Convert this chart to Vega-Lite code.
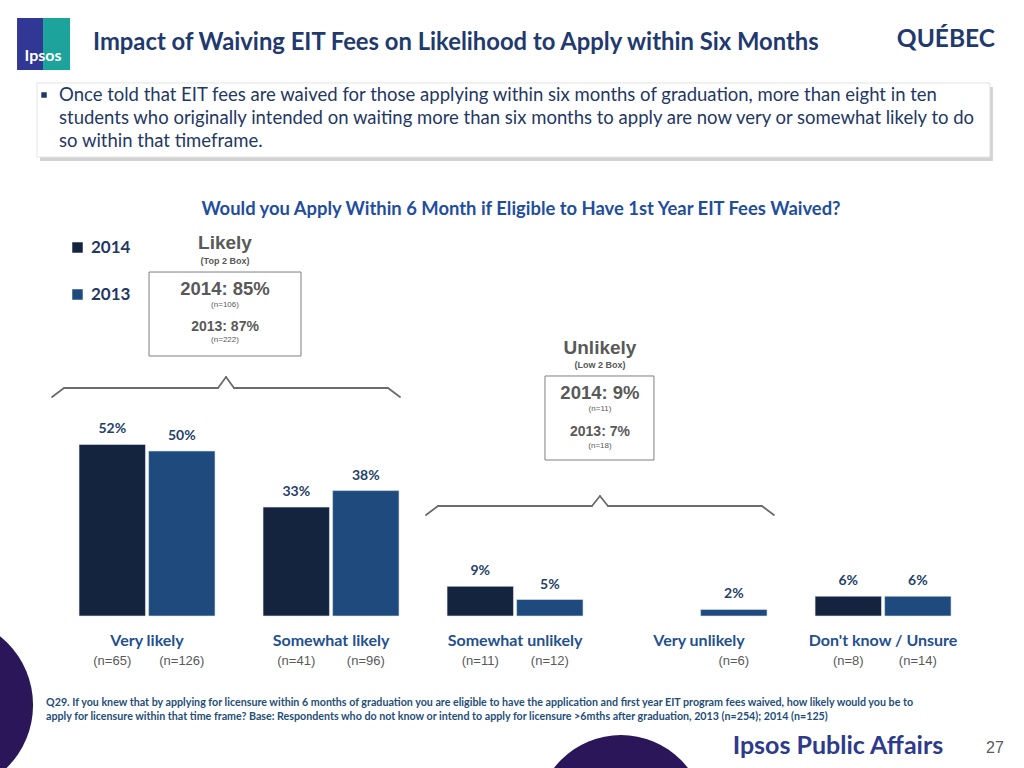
{
  "$schema": "https://vega.github.io/schema/vega-lite/v6.json",
  "width": 1024,
  "height": 768,
  "autosize": {"type": "none"},
  "padding": 0,
  "background": "white",
  "config": {
    "view": {"stroke": null},
    "axis": {"disable": true},
    "text": {"font": "Lato"}
  },
  "data": {"values": [
    {"category": "Very likely", "year": "2014", "value": 52, "n": "(n=65)"},
    {"category": "Very likely", "year": "2013", "value": 50, "n": "(n=126)"},
    {"category": "Somewhat likely", "year": "2014", "value": 33, "n": "(n=41)"},
    {"category": "Somewhat likely", "year": "2013", "value": 38, "n": "(n=96)"},
    {"category": "Somewhat unlikely", "year": "2014", "value": 9, "n": "(n=11)"},
    {"category": "Somewhat unlikely", "year": "2013", "value": 5, "n": "(n=12)"},
    {"category": "Very unlikely", "year": "2013", "value": 2, "n": "(n=6)"},
    {"category": "Don't know / Unsure", "year": "2014", "value": 6, "n": "(n=8)"},
    {"category": "Don't know / Unsure", "year": "2013", "value": 6, "n": "(n=14)"}
  ]},
  "layer": [
    {
      "mark": {"type": "point", "shape": "circle", "filled": true, "size": 30976, "color": "#2A1659", "opacity": 1},
      "data": {"values": [{}]},
      "encoding": {"x": {"datum": "Very likely", "bandPosition": -0.9853}, "y": {"datum": -26.97}}
    },
    {
      "mark": {"type": "point", "shape": "circle", "filled": true, "size": 28561, "color": "#2A1659", "opacity": 1},
      "data": {"values": [{}]},
      "encoding": {"x": {"datum": "Very likely", "bandPosition": 3.9853}, "y": {"datum": -61.67}}
    },
    {
      "mark": {"type": "rect", "color": "#303795"},
      "data": {"values": [{}]},
      "encoding": {
        "x": {"datum": "Very likely", "bandPosition": -0.4559}, "x2": {"datum": "Very likely", "bandPosition": -0.2647},
        "y": {"datum": 181.21}, "y2": {"datum": 165.45}
      }
    },
    {
      "mark": {"type": "rect", "color": "#1BA39C"},
      "data": {"values": [{}]},
      "encoding": {
        "x": {"datum": "Very likely", "bandPosition": -0.2647}, "x2": {"datum": "Very likely", "bandPosition": -0.0662},
        "y": {"datum": 181.21}, "y2": {"datum": 165.45}
      }
    },
    {
      "mark": {"type": "text", "text": "Ipsos", "color": "white", "fontSize": 16, "fontWeight": "bold", "align": "center", "baseline": "middle"},
      "data": {"values": [{}]},
      "encoding": {"x": {"datum": "Very likely", "bandPosition": -0.2647}, "y": {"datum": 169.7}}
    },
    {
      "mark": {"type": "text", "text": "Impact of Waiving EIT Fees on Likelihood to Apply within Six Months", "color": "#1F3A6E", "fontSize": 23.8, "fontWeight": "bold", "align": "left", "baseline": "middle"},
      "data": {"values": [{}]},
      "encoding": {"x": {"datum": "Very likely", "bandPosition": 0.1029}, "y": {"datum": 173.64}}
    },
    {
      "mark": {"type": "text", "text": "QUÉBEC", "color": "#1F3A6E", "fontSize": 24.5, "fontWeight": "bold", "align": "center", "baseline": "middle"},
      "data": {"values": [{}]},
      "encoding": {"x": {"datum": "Very likely", "bandPosition": 6.375}, "y": {"datum": 174.55}}
    },
    {
      "mark": {"type": "rect", "color": "#bfbfbf", "opacity": 0.7},
      "data": {"values": [{}]},
      "encoding": {
        "x": {"datum": "Very likely", "bandPosition": -0.2868}, "x2": {"datum": "Very likely", "bandPosition": 6.7206},
        "y": {"datum": 160.3}, "y2": {"datum": 137.88}
      }
    },
    {
      "mark": {"type": "rect", "fill": "white", "stroke": "#e4e4e4", "strokeWidth": 1},
      "data": {"values": [{}]},
      "encoding": {
        "x": {"datum": "Very likely", "bandPosition": -0.3088}, "x2": {"datum": "Very likely", "bandPosition": 6.6985},
        "y": {"datum": 161.52}, "y2": {"datum": 139.09}
      }
    },
    {
      "mark": {"type": "point", "shape": "square", "filled": true, "size": 30, "color": "#1F3864", "opacity": 1},
      "data": {"values": [{}]},
      "encoding": {"x": {"datum": "Very likely", "bandPosition": -0.2574}, "y": {"datum": 157.88}}
    },
    {
      "mark": {"type": "text", "text": ["Once told that EIT fees are waived for those applying within six months of graduation, more than eight in ten", "students who originally intended on waiting more than six months to apply are now very or somewhat likely to do", "so within that timeframe."], "color": "#1F3864", "fontSize": 18.5, "lineHeight": 23, "align": "left", "baseline": "middle"},
      "data": {"values": [{}]},
      "encoding": {"x": {"datum": "Very likely", "bandPosition": -0.1471}, "y": {"datum": 157.88}}
    },
    {
      "mark": {"type": "text", "text": "Would you Apply Within 6 Month if Eligible to Have 1st Year EIT Fees Waived?", "color": "#1F4E9E", "fontSize": 18.4, "fontWeight": "bold", "align": "center", "baseline": "middle"},
      "data": {"values": [{}]},
      "encoding": {"x": {"datum": "Very likely", "bandPosition": 3.25}, "y": {"datum": 123.33}}
    },
    {
      "mark": {"type": "text", "text": "Likely", "color": "#595959", "font": "Liberation Sans", "fontSize": 19, "fontWeight": "bold", "align": "center", "baseline": "middle"},
      "data": {"values": [{}]},
      "encoding": {"x": {"datum": "Very likely", "bandPosition": 1.0735}, "y": {"datum": 113.03}}
    },
    {
      "mark": {"type": "text", "text": "(Top 2 Box)", "color": "#595959", "font": "Liberation Sans", "fontSize": 9, "fontWeight": "bold", "align": "center", "baseline": "middle"},
      "data": {"values": [{}]},
      "encoding": {"x": {"datum": "Very likely", "bandPosition": 1.0735}, "y": {"datum": 107.58}}
    },
    {
      "mark": {"type": "rect", "fill": "white", "stroke": "#7f7f7f", "strokeWidth": 1},
      "data": {"values": [{}]},
      "encoding": {
        "x": {"datum": "Very likely", "bandPosition": 0.5147}, "x2": {"datum": "Very likely", "bandPosition": 1.6324},
        "y": {"datum": 104.24}, "y2": {"datum": 78.79}
      }
    },
    {
      "mark": {"type": "text", "text": "2014: 85%", "color": "#595959", "font": "Liberation Sans", "fontSize": 18.5, "fontWeight": "bold", "align": "center", "baseline": "middle"},
      "data": {"values": [{}]},
      "encoding": {"x": {"datum": "Very likely", "bandPosition": 1.0735}, "y": {"datum": 99.09}}
    },
    {
      "mark": {"type": "text", "text": "(n=106)", "color": "#595959", "font": "Liberation Sans", "fontSize": 8, "align": "center", "baseline": "middle"},
      "data": {"values": [{}]},
      "encoding": {"x": {"datum": "Very likely", "bandPosition": 1.0735}, "y": {"datum": 94.24}}
    },
    {
      "mark": {"type": "text", "text": "2013: 87%", "color": "#595959", "font": "Liberation Sans", "fontSize": 14, "fontWeight": "bold", "align": "center", "baseline": "middle"},
      "data": {"values": [{}]},
      "encoding": {"x": {"datum": "Very likely", "bandPosition": 1.0735}, "y": {"datum": 87.58}}
    },
    {
      "mark": {"type": "text", "text": "(n=222)", "color": "#595959", "font": "Liberation Sans", "fontSize": 8, "align": "center", "baseline": "middle"},
      "data": {"values": [{}]},
      "encoding": {"x": {"datum": "Very likely", "bandPosition": 1.0735}, "y": {"datum": 83.64}}
    },
    {
      "mark": {"type": "text", "text": "Unlikely", "color": "#595959", "font": "Liberation Sans", "fontSize": 19, "fontWeight": "bold", "align": "center", "baseline": "middle"},
      "data": {"values": [{}]},
      "encoding": {"x": {"datum": "Very likely", "bandPosition": 3.8309}, "y": {"datum": 81.21}}
    },
    {
      "mark": {"type": "text", "text": "(Low 2 Box)", "color": "#595959", "font": "Liberation Sans", "fontSize": 9, "fontWeight": "bold", "align": "center", "baseline": "middle"},
      "data": {"values": [{}]},
      "encoding": {"x": {"datum": "Very likely", "bandPosition": 3.8309}, "y": {"datum": 76.06}}
    },
    {
      "mark": {"type": "rect", "fill": "white", "stroke": "#7f7f7f", "strokeWidth": 1},
      "data": {"values": [{}]},
      "encoding": {
        "x": {"datum": "Very likely", "bandPosition": 3.4265}, "x2": {"datum": "Very likely", "bandPosition": 4.2279},
        "y": {"datum": 72.73}, "y2": {"datum": 47.27}
      }
    },
    {
      "mark": {"type": "text", "text": "2014: 9%", "color": "#595959", "font": "Liberation Sans", "fontSize": 18.5, "fontWeight": "bold", "align": "center", "baseline": "middle"},
      "data": {"values": [{}]},
      "encoding": {"x": {"datum": "Very likely", "bandPosition": 3.8309}, "y": {"datum": 67.58}}
    },
    {
      "mark": {"type": "text", "text": "(n=11)", "color": "#595959", "font": "Liberation Sans", "fontSize": 8, "align": "center", "baseline": "middle"},
      "data": {"values": [{}]},
      "encoding": {"x": {"datum": "Very likely", "bandPosition": 3.8309}, "y": {"datum": 62.73}}
    },
    {
      "mark": {"type": "text", "text": "2013: 7%", "color": "#595959", "font": "Liberation Sans", "fontSize": 14, "fontWeight": "bold", "align": "center", "baseline": "middle"},
      "data": {"values": [{}]},
      "encoding": {"x": {"datum": "Very likely", "bandPosition": 3.8309}, "y": {"datum": 55.76}}
    },
    {
      "mark": {"type": "text", "text": "(n=18)", "color": "#595959", "font": "Liberation Sans", "fontSize": 8, "align": "center", "baseline": "middle"},
      "data": {"values": [{}]},
      "encoding": {"x": {"datum": "Very likely", "bandPosition": 3.8309}, "y": {"datum": 51.52}}
    },
    {
      "mark": {"type": "rule", "color": "#6b6b6b", "strokeWidth": 1.8, "strokeCap": "round"},
      "data": {"values": [{}]},
      "encoding": {"x": {"datum": "Very likely", "bandPosition": -0.1985}, "x2": {"datum": "Very likely", "bandPosition": -0.1103}, "y": {"datum": 66.36}, "y2": {"datum": 69.09}}
    },
    {
      "mark": {"type": "rule", "color": "#6b6b6b", "strokeWidth": 1.8, "strokeCap": "round"},
      "data": {"values": [{}]},
      "encoding": {"x": {"datum": "Very likely", "bandPosition": -0.1103}, "x2": {"datum": "Very likely", "bandPosition": 1.0221}, "y": {"datum": 69.09}, "y2": {"datum": 69.09}}
    },
    {
      "mark": {"type": "rule", "color": "#6b6b6b", "strokeWidth": 1.8, "strokeCap": "round"},
      "data": {"values": [{}]},
      "encoding": {"x": {"datum": "Very likely", "bandPosition": 1.0221}, "x2": {"datum": "Very likely", "bandPosition": 1.0809}, "y": {"datum": 69.09}, "y2": {"datum": 72.42}}
    },
    {
      "mark": {"type": "rule", "color": "#6b6b6b", "strokeWidth": 1.8, "strokeCap": "round"},
      "data": {"values": [{}]},
      "encoding": {"x": {"datum": "Very likely", "bandPosition": 1.0809}, "x2": {"datum": "Very likely", "bandPosition": 1.1397}, "y": {"datum": 72.42}, "y2": {"datum": 69.09}}
    },
    {
      "mark": {"type": "rule", "color": "#6b6b6b", "strokeWidth": 1.8, "strokeCap": "round"},
      "data": {"values": [{}]},
      "encoding": {"x": {"datum": "Very likely", "bandPosition": 1.1397}, "x2": {"datum": "Very likely", "bandPosition": 2.2721}, "y": {"datum": 69.09}, "y2": {"datum": 69.09}}
    },
    {
      "mark": {"type": "rule", "color": "#6b6b6b", "strokeWidth": 1.8, "strokeCap": "round"},
      "data": {"values": [{}]},
      "encoding": {"x": {"datum": "Very likely", "bandPosition": 2.2721}, "x2": {"datum": "Very likely", "bandPosition": 2.3603}, "y": {"datum": 69.09}, "y2": {"datum": 66.36}}
    },
    {
      "mark": {"type": "rule", "color": "#6b6b6b", "strokeWidth": 1.8, "strokeCap": "round"},
      "data": {"values": [{}]},
      "encoding": {"x": {"datum": "Very likely", "bandPosition": 2.5515}, "x2": {"datum": "Very likely", "bandPosition": 2.6397}, "y": {"datum": 30.61}, "y2": {"datum": 33.33}}
    },
    {
      "mark": {"type": "rule", "color": "#6b6b6b", "strokeWidth": 1.8, "strokeCap": "round"},
      "data": {"values": [{}]},
      "encoding": {"x": {"datum": "Very likely", "bandPosition": 2.6397}, "x2": {"datum": "Very likely", "bandPosition": 3.7721}, "y": {"datum": 33.33}, "y2": {"datum": 33.33}}
    },
    {
      "mark": {"type": "rule", "color": "#6b6b6b", "strokeWidth": 1.8, "strokeCap": "round"},
      "data": {"values": [{}]},
      "encoding": {"x": {"datum": "Very likely", "bandPosition": 3.7721}, "x2": {"datum": "Very likely", "bandPosition": 3.8309}, "y": {"datum": 33.33}, "y2": {"datum": 36.36}}
    },
    {
      "mark": {"type": "rule", "color": "#6b6b6b", "strokeWidth": 1.8, "strokeCap": "round"},
      "data": {"values": [{}]},
      "encoding": {"x": {"datum": "Very likely", "bandPosition": 3.8309}, "x2": {"datum": "Very likely", "bandPosition": 3.8897}, "y": {"datum": 36.36}, "y2": {"datum": 33.33}}
    },
    {
      "mark": {"type": "rule", "color": "#6b6b6b", "strokeWidth": 1.8, "strokeCap": "round"},
      "data": {"values": [{}]},
      "encoding": {"x": {"datum": "Very likely", "bandPosition": 3.8897}, "x2": {"datum": "Very likely", "bandPosition": 5.0221}, "y": {"datum": 33.33}, "y2": {"datum": 33.33}}
    },
    {
      "mark": {"type": "rule", "color": "#6b6b6b", "strokeWidth": 1.8, "strokeCap": "round"},
      "data": {"values": [{}]},
      "encoding": {"x": {"datum": "Very likely", "bandPosition": 5.0221}, "x2": {"datum": "Very likely", "bandPosition": 5.1103}, "y": {"datum": 33.33}, "y2": {"datum": 30.61}}
    },
    {
      "mark": {"type": "bar", "stroke": "#dce6f2", "strokeWidth": 0.6},
      "encoding": {
        "x": {"field": "category", "type": "nominal", "axis": null, "sort": null,
              "scale": {"domain": ["Very likely", "Somewhat likely", "Somewhat unlikely", "Very unlikely", "Don't know / Unsure"], "paddingInner": 0.261, "paddingOuter": 0.413, "align": 0.52}},
        "xOffset": {"field": "year", "type": "nominal", "scale": {"domain": ["2014", "2013"], "paddingInner": 0.045}},
        "y": {"field": "value", "type": "quantitative", "axis": null, "scale": {"domain": [-46.06, 186.67], "nice": false, "zero": false}},
        "color": {"field": "year", "type": "nominal",
                  "scale": {"domain": ["2014", "2013"], "range": ["#14243F", "#1F4A7D"]},
                  "legend": {"orient": "none", "legendX": 69, "legendY": 239, "title": null, "symbolType": "square", "symbolSize": 110, "symbolStrokeWidth": 0, "labelFontSize": 17, "labelFontWeight": "bold", "labelColor": "#1F3864", "labelFont": "Lato", "rowPadding": 29, "labelOffset": 5, "padding": 0}}
      }
    },
    {
      "transform": [{"calculate": "datum.value + '%'", "as": "label"}],
      "mark": {"type": "text", "color": "#263F6A", "fontSize": 14, "fontWeight": "bold", "baseline": "middle", "dy": -15},
      "encoding": {
        "x": {"field": "category", "type": "nominal"},
        "xOffset": {"field": "year", "type": "nominal"},
        "y": {"field": "value", "type": "quantitative"},
        "text": {"field": "label"}
      }
    },
    {
      "mark": {"type": "text", "color": "#595959", "font": "Liberation Sans Narrow, Liberation Sans", "fontSize": 13, "baseline": "middle"},
      "encoding": {
        "x": {"field": "category", "type": "nominal"},
        "xOffset": {"field": "year", "type": "nominal"},
        "y": {"datum": -13.64},
        "text": {"field": "n"}
      }
    },
    {
      "data": {"values": [{"category": "Very likely"}, {"category": "Somewhat likely"}, {"category": "Somewhat unlikely"}, {"category": "Very unlikely"}, {"category": "Don't know / Unsure"}]},
      "mark": {"type": "text", "color": "#24508F", "fontSize": 16, "fontWeight": "bold", "baseline": "middle"},
      "encoding": {
        "x": {"field": "category", "type": "nominal"},
        "y": {"datum": -7.58},
        "text": {"field": "category"}
      }
    },
    {
      "mark": {"type": "text", "text": ["Q29. If you knew that by applying for licensure within 6 months of graduation you are eligible to have the application and first year EIT program fees waived, how likely would you be to", "apply for licensure within that time frame? Base:  Respondents who do not know or intend to apply for licensure >6mths after graduation,  2013 (n=254); 2014 (n=125)"], "color": "#1F4E79", "fontSize": 10.7, "fontWeight": "bold", "lineHeight": 14, "align": "left", "baseline": "middle"},
      "data": {"values": [{}]},
      "encoding": {"x": {"datum": "Very likely", "bandPosition": -0.2426}, "y": {"datum": -26.36}}
    },
    {
      "mark": {"type": "text", "text": "Ipsos Public Affairs", "color": "#2E3A8C", "fontSize": 25, "fontWeight": "bold", "align": "center", "baseline": "middle"},
      "data": {"values": [{}]},
      "encoding": {"x": {"datum": "Very likely", "bandPosition": 5.5809}, "y": {"datum": -39.39}}
    },
    {
      "mark": {"type": "text", "text": "27", "color": "#595959", "font": "Liberation Sans", "fontSize": 16, "align": "center", "baseline": "middle"},
      "data": {"values": [{}]},
      "encoding": {"x": {"datum": "Very likely", "bandPosition": 6.7353}, "y": {"datum": -40.0}}
    }
  ]
}
